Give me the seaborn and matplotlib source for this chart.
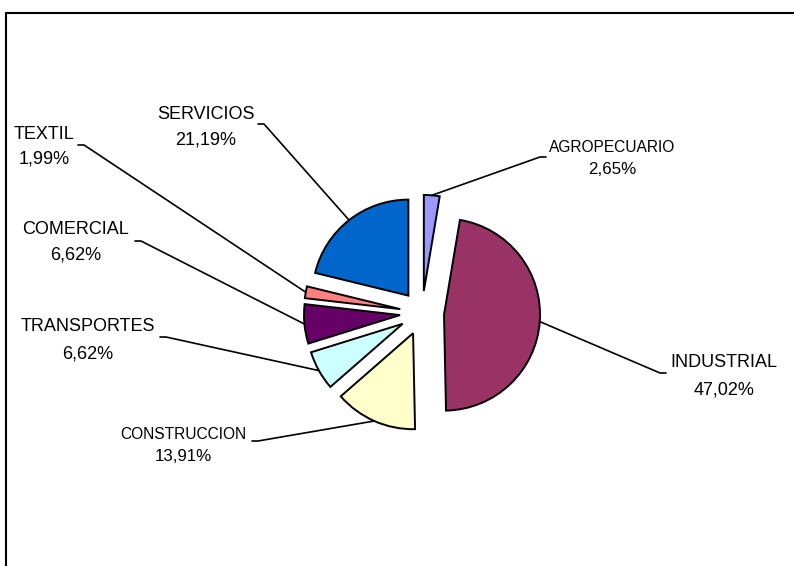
import matplotlib
matplotlib.use("Agg")
import matplotlib.pyplot as plt
import seaborn as sns
from matplotlib.lines import Line2D
import numpy as np

# Sector shares (%), clockwise from twelve o'clock
sectors = ["AGROPECUARIO", "INDUSTRIAL", "CONSTRUCCION", "TRANSPORTES",
           "COMERCIAL", "TEXTIL", "SERVICIOS"]
shares = [2.65, 47.02, 13.91, 6.62, 6.62, 1.99, 21.19]
sector_colors = ["#9999FF", "#993366", "#FFFFCC", "#CCFFFF",
                 "#660066", "#FF8080", "#0066CC"]

W, H, DPI = 794, 566, 100
CX, CY, R = 422, 313, 96          # pie centre and radius, in pixels
EXPLODE = 0.23                    # in radii

# Label layout in pixels (from top-left):
# name centre x, name y, percent y, leader anchor x, anchor y, tick dir, name size, pct size
label_layout = {
    "AGROPECUARIO": (612, 146, 168, 546, 157, -1, 11.2, 12.2),
    "INDUSTRIAL":   (724, 361, 388, 666, 373, -1, 13.0, 13.0),
    "CONSTRUCCION": (183, 433, 455, 252, 441, 1, 11.2, 12.2),
    "TRANSPORTES":  (88, 325, 352, 160, 337, 1, 13.0, 13.0),
    "COMERCIAL":    (76, 228, 253, 135, 241, 1, 13.0, 13.0),
    "TEXTIL":       (44, 133, 157, 78, 145, 1, 13.0, 13.0),
    "SERVICIOS":    (206, 113, 138, 258, 124, 1, 13.0, 13.0),
}

sns.set_theme(style="white")
plt.rcParams["font.family"] = ["Liberation Sans", "DejaVu Sans"]


def to_data(px, py):
    """Pixel position (top-left origin) to pie data units (radius = 1)."""
    return (px - CX) / R, (CY - py) / R


fig = plt.figure(figsize=(W / DPI, H / DPI), dpi=DPI, facecolor="white")
ax = fig.add_axes([0, 0, 1, 1])

wedges, _ = ax.pie(
    shares,
    colors=sns.color_palette(sector_colors),
    startangle=90,
    counterclock=False,
    explode=[EXPLODE] * len(shares),
    radius=1.0,
    center=(0, 0),
    wedgeprops=dict(edgecolor="black", linewidth=1.4),
)

x0, _ = to_data(0, 0)
x1, _ = to_data(W, 0)
_, y0 = to_data(0, H)
_, y1 = to_data(0, 0)
ax.set_xlim(x0, x1)
ax.set_ylim(y0, y1)
ax.set_aspect("auto")
ax.axis("off")

# Leader lines and two-line labels
for name, share, w in zip(sectors, shares, wedges):
    tx, ny, py_, axp, ayp, tdir, nsize, psize = label_layout[name]
    mid = np.deg2rad((w.theta1 + w.theta2) / 2)
    ex = w.center[0] + w.r * np.cos(mid)
    ey = w.center[1] + w.r * np.sin(mid)
    ax_, ay_ = to_data(axp, ayp)
    kx, ky = to_data(axp + tdir * 6, ayp)
    ax.add_line(Line2D([ax_, kx, ex], [ay_, ky, ey], color="black",
                       linewidth=1.2, solid_joinstyle="miter"))

    pct = f"{share:.2f}".replace(".", ",") + "%"
    for txt, yy, size in ((name, ny, nsize), (pct, py_, psize)):
        cap = 0.716 * size * DPI / 72
        lx, ly = to_data(tx, yy + cap / 2)
        ax.text(lx, ly, txt, ha="center", va="baseline", fontsize=size,
                color="black")

# Chart area border (top and left edges visible)
fig.add_artist(Line2D([6 / W, 1.01], [1 - 13 / H, 1 - 13 / H],
                      transform=fig.transFigure, color="black", linewidth=1.5))
fig.add_artist(Line2D([6 / W, 6 / W], [1 - 13 / H, -0.01],
                      transform=fig.transFigure, color="black", linewidth=1.5))

fig.savefig("out.png", dpi=DPI, facecolor="white")
